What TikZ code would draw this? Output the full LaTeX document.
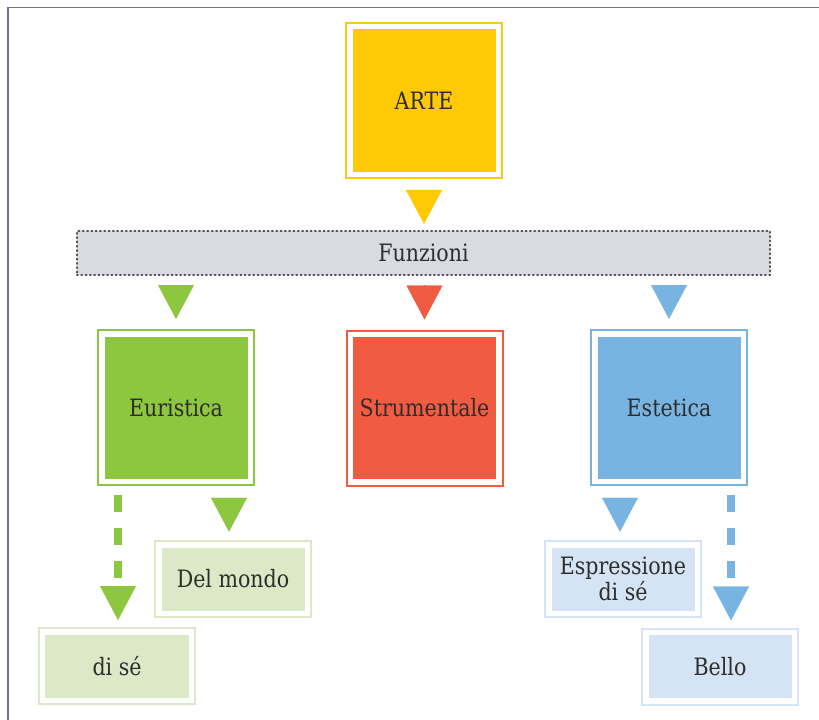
\documentclass[tikz,border=0pt]{standalone}
\usepackage{fontspec}
\setmainfont{DejaVu Serif}[FakeStretch=0.86]
\usepackage{xcolor}
\usetikzlibrary{arrows.meta}

\definecolor{artegold}{RGB}{255,202,5}
\definecolor{eurgreen}{RGB}{141,198,63}
\definecolor{strred}{RGB}{241,91,65}
\definecolor{estblue}{RGB}{120,180,226}
\definecolor{lightgreen}{RGB}{221,233,198}
\definecolor{lightblue}{RGB}{212,228,244}
\definecolor{bandgray}{RGB}{216,220,224}
\definecolor{dotgray}{RGB}{80,80,84}
\definecolor{framegray}{RGB}{110,120,131}
\definecolor{textgray}{RGB}{45,45,45}

\tikzset{
  box/.style={draw=#1, fill=#1, double=white, double distance=5.5bp,
              line width=2bp, outer sep=0pt, inner sep=0pt,
              minimum width=148.5bp, minimum height=147.5bp},
  subbox/.style={box=#1, minimum height=68.5bp},
  band/.style={fill=bandgray, draw=dotgray, line width=2.2bp,
               dash pattern=on 0.9bp off 3.4bp, line cap=round,
               minimum width=693bp, minimum height=44bp,
               inner sep=0pt, outer sep=0pt}
}

\begin{document}
\begin{tikzpicture}[x=1bp, y=-1bp]
            \useasboundingbox (0,0) rectangle (819,720);
            \draw[framegray, line width=1.3bp] (8,720) -- (8,7.5) -- (819,7.5);

            \begin{scope}[every node/.append style={text=textgray, font=\fontsize{24}{26}\selectfont}]
                \node[box=artegold] (arte) at (424,100.5) {ARTE};
                \node[band] (funz) at (423.5,253) {Funzioni};
                \node[box=eurgreen] (eur) at (176,407.5) {Euristica};
                \node[box=strred] (str) at (424.5,408) {Strumentale};
                \node[box=estblue] (est) at (669,407.5) {Estetica};
                \node[subbox=lightgreen] (delm) at (233,579) {Del mondo};
                \node[subbox=lightgreen] (dise) at (117,666) {di sé};
                \node[subbox=lightblue, align=center] (espr) at (623,579) {Espressione\\di sé};
                \node[subbox=lightblue] (bello) at (720,666.5) {Bello};
            \end{scope}

            \begin{scope}[>={Triangle[length=34bp,width=36bp,line width=0.3bp]},
                          every edge/.style={draw, line width=0.3bp}]
                \path[->] (arte.south) edge[artegold, shorten <=16bp, shorten >=7bp] (arte.south |- funz.north);
                \path[->] (funz.south -| eur.north) edge[eurgreen, shorten <=10.25bp, shorten >=14.75bp] (eur.north);
                \path[->] (funz.south -| str.north) edge[strred, shorten <=10.25bp, shorten >=14.75bp] (str.north);
                \path[->] (funz.south -| est.north) edge[estblue, shorten <=10.25bp, shorten >=14.75bp] (est.north);
                \path[->] ([xshift=-4bp]eur.south -| delm.north) edge[eurgreen, shorten <=16.75bp, shorten >=13bp] ([xshift=-4bp]delm.north);
                \path[->] ([xshift=-3bp]est.south -| espr.north) edge[estblue, shorten <=16.75bp, shorten >=13bp] ([xshift=-3bp]espr.north);
                \path[->] ([xshift=1bp]eur.south -| dise.north) edge[eurgreen, line width=7.5bp, dash pattern=on 17bp off 16bp,
                    shorten <=13.75bp, shorten >=11.75bp] ([xshift=1bp]dise.north);
                \path[->] ([xshift=11bp]est.south -| bello.north) edge[estblue, line width=7.5bp, dash pattern=on 17bp off 16bp,
                    shorten <=13.75bp, shorten >=11.75bp] ([xshift=11bp]bello.north);
            \end{scope}
\end{tikzpicture}
\end{document}
